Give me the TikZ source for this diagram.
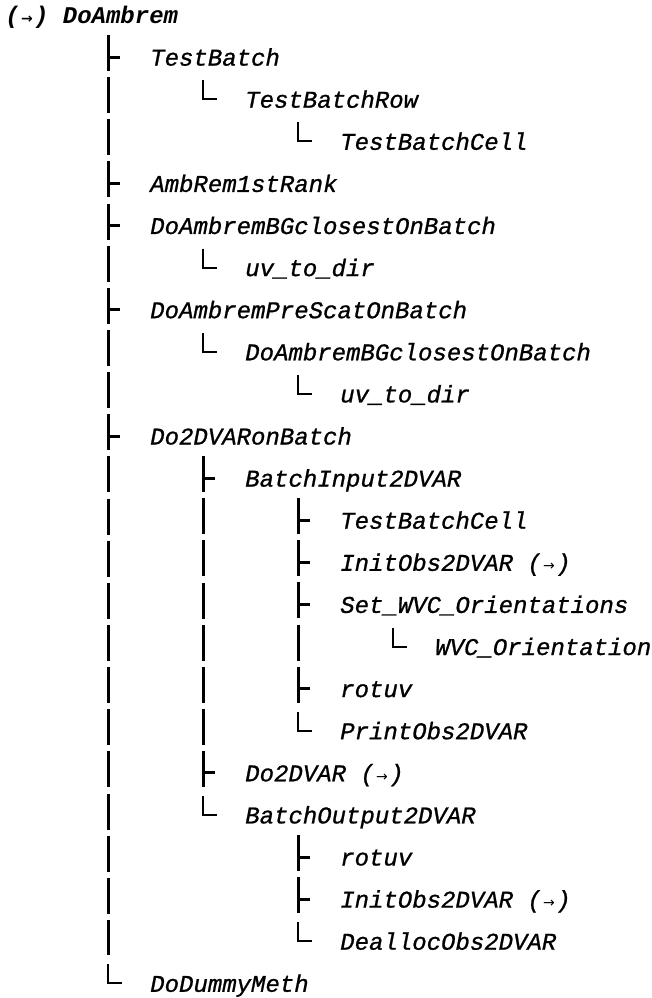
\documentclass[tikz,border=0pt]{standalone}
\usepackage{fontspec}
\usepackage{tikz}
\usetikzlibrary{calc}
\newfontfamily\codefont{Liberation Mono}[ItalicFeatures={FakeBold=0.9}]
\newfontfamily\arrowfont{DejaVu Sans}
\newcommand\rarr{\makebox[10.8pt]{\arrowfont\fontsize{10.5}{10}\selectfont →}}

\tikzset{
  item/.style={anchor=base west, inner sep=0pt,
    font=\codefont\itshape\fontsize{18}{20}\selectfont},
  branch/.style={line width=2.25pt, line cap=butt},
  trunkline/.style={branch, dash pattern=on 27pt off 4.6pt},
  elbowline/.style={line width=1.5pt, line cap=butt}
}
% ├ tick, │ run between first and last child, └ for the last child
\newcommand\tee[1]{\draw[branch] ($(#1.base west)+(-41.5,-8.5)$) -- ++(11.5,0);}
\newcommand\trunk[2]{\draw[trunkline] ($(#1.base west)+(-41.5,-30.5)$) -- ($(#2.base west)+(-41.5,-36.5)$);}
\newcommand\elbow[1]{\draw[elbowline] ($(#1.base west)+(-42,-27.5)$) |- ++(13.5,19);}

\begin{document}
\begin{tikzpicture}[x=0.75pt, y=-0.75pt]
\useasboundingbox (0,0) rectangle (652,998);
\node[item, font=\codefont\bfseries\itshape\fontsize{18}{20}\selectfont] (r0) at (5,23.5) {(\rarr) DoAmbrem};
\foreach \lv/\txt [count=\r from 1] in {
  1/TestBatch, 2/TestBatchRow, 3/TestBatchCell, 1/AmbRem1stRank,
  1/DoAmbremBGclosestOnBatch, 2/uv\_to\_dir, 1/DoAmbremPreScatOnBatch,
  2/DoAmbremBGclosestOnBatch, 3/uv\_to\_dir, 1/Do2DVARonBatch,
  2/BatchInput2DVAR, 3/TestBatchCell, 3/InitObs2DVAR (\rarr),
  3/Set\_WVC\_Orientations, 4/WVC\_Orientation, 3/rotuv, 3/PrintObs2DVAR,
  2/Do2DVAR (\rarr), 2/BatchOutput2DVAR, 3/rotuv, 3/InitObs2DVAR (\rarr),
  3/DeallocObs2DVAR, 1/DoDummyMeth}
  \node[item] (r\r) at ({55+95*\lv}, {23.5+42.1*\r}) {\txt};

% DoAmbrem
\trunk{r1}{r23}
\foreach \c in {r1,r4,r5,r7,r10} {\tee{\c}}
\elbow{r23}
\elbow{r2} \elbow{r3} \elbow{r6} \elbow{r8} \elbow{r9}
% Do2DVARonBatch
\trunk{r11}{r19}
\tee{r11} \tee{r18} \elbow{r19}
% BatchInput2DVAR
\trunk{r12}{r17}
\foreach \c in {r12,r13,r14,r16} {\tee{\c}}
\elbow{r17} \elbow{r15}
% BatchOutput2DVAR
\trunk{r20}{r22}
\tee{r20} \tee{r21} \elbow{r22}
\end{tikzpicture}
\end{document}
